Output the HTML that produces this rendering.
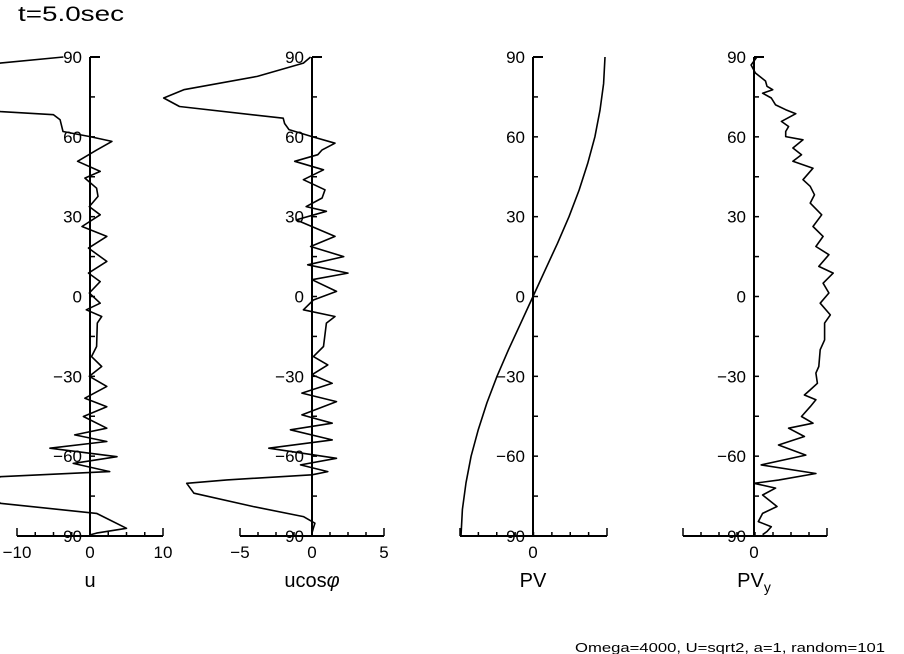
<!DOCTYPE html>
<html><head><meta charset="utf-8"><style>
html,body{margin:0;padding:0;background:#fff;}
svg{display:block;font-family:"Liberation Sans",sans-serif;}
</style></head><body>
<svg id="chart" width="904" height="654" viewBox="0 0 904 654">
<text x="18" y="21" font-size="21" textLength="106" lengthAdjust="spacingAndGlyphs">t=5.0sec</text>
<text x="575" y="652" font-size="13" textLength="310" lengthAdjust="spacingAndGlyphs">Omega=4000, U=sqrt2, a=1, random=101</text>
</svg>
<script>
const yTicks=[90,60,30,0,-30,-60,-90];
const uLat=[90,87.7,86,80,72,69.5,68.3,66.4,62,60.1,58.3,55,50.8,47,44.5,40.7,37.6,33.8,30.7,26.3,22.6,18.2,13.2,8.8,5.6,1.3,-2.5,-5,-7.5,-10,-18.8,-22.6,-26.3,-30,-33.8,-38.2,-41.4,-45.1,-49.5,-52,-54.5,-57,-60.2,-62.7,-65.8,-67.7,-72,-77.7,-81.5,-87.1,-88.9,-89.6];
const uVal=[-3.65,-12.3,-14,-14,-14,-12.3,-5,-4.1,-3.7,0,3,0.9,-1.7,1.4,-0.7,0.9,1.1,-0.1,1.4,-1.1,2.3,-0.2,2.3,-0.2,1.4,-0.1,1.4,-0.5,1.6,1,0.9,0.2,1.6,-0.1,2.3,-0.7,2.3,-0.9,2.3,-2.1,2.3,-5.5,3.7,-2.3,2.7,-12.3,-14,-12.3,0.9,5,0.9,0];
const ucLat=[90,87.7,82.7,77.7,74.6,71.4,67,65,62.7,60.1,57.6,55.1,53.3,50.8,47.6,43.9,40.1,37,33.8,32,28.8,22.6,18.8,15,11.9,8.8,6.3,1.9,-1.3,-5,-7.5,-10,-18.8,-22.6,-25.7,-29.4,-32.6,-36.3,-39.5,-44.5,-47.6,-50.1,-53.9,-57,-60.8,-63.3,-65.8,-67,-68.9,-70.2,-73.9,-78.9,-82.7,-85.2,-87,-88.9];
const ucVal=[-0.1,-0.6,-3.8,-8.9,-10.3,-9.2,-2,-1.9,-1.6,0,1.6,0.7,0.4,-1.2,0.8,-0.6,0.9,0.7,-0.4,1,-1.1,1.6,-0.1,2.2,-0.3,2.5,0,1.7,0.1,-0.6,1.6,1,0.8,0.1,1.1,0,1.4,-0.7,1.7,-0.7,1.4,-1.5,1.4,-3,1.7,-0.8,1.1,0,-5.9,-8.7,-8.2,-4.1,-0.6,0.2,0.1,0];
const pvLat=[-90,-80,-70,-60,-50,-40,-30,-20,-10,0,10,20,30,40,50,60,70,80,90];
const pvVal=[-1,-0.98,-0.93,-0.86,-0.76,-0.64,-0.5,-0.34,-0.17,0,0.17,0.34,0.5,0.64,0.76,0.86,0.93,0.98,1];
const pvyLat=[90,87,84,81,79,77.7,76.4,74.6,72,70.2,68.7,65.8,63.9,62,60.1,58.9,55.8,53.3,50.8,48.2,43.9,41.4,38.2,35.1,30.7,26.3,22.6,18.8,15.7,11.3,8.8,5,1.3,-2.5,-6.9,-10,-16.3,-20,-26.3,-28.8,-32.6,-35.1,-37,-38.8,-41.4,-45.1,-47.6,-49.5,-52.6,-55.8,-59.6,-63.3,-66.5,-69,-70.2,-72,-74.6,-78.9,-81.5,-84.6,-86.5,-88.3,-89.5];
const pvyVal=[0.2,-0.2,0.1,0.8,0.9,1.3,0.6,1.2,1.5,2.2,2.9,1.9,2.4,2.2,2.2,3.4,2.7,3.3,2.7,4.1,3.4,3.9,4.2,3.9,4.7,4.1,4.8,4.3,5.2,4.5,5.5,4.8,5.2,4.6,5.3,4.9,4.9,4.6,4.5,4.3,4.4,3.9,3.5,4.3,3.9,3.3,4.1,2.4,3.5,1.7,3.6,0.5,4.3,1.7,0,1.5,0.6,1.6,0.6,0.3,1.2,0.9,0.6];

const NS='http://www.w3.org/2000/svg';
const svg=document.getElementById('chart');
const Y0=296.5, YS=479/180;
function yPos(lat){return Y0-lat*YS;}
function mk(tag,attrs){const e=document.createElementNS(NS,tag);for(const k in attrs)e.setAttribute(k,attrs[k]);svg.appendChild(e);return e;}

function panel(cfg,lats,vals){
  const ax=cfg.ax, sc=cfg.sc;
  const xPos=v=>ax+v*sc;
  const yb=yPos(-90);
  let l=mk('line',{x1:cfg.xl,y1:yb,x2:cfg.xr,y2:yb,stroke:'#000','stroke-width':2});
  
  
  for(let x=cfg.xl;x<=cfg.xr+0.5;x+=(cfg.xr-cfg.xl)/8){
    const end=(Math.abs(x-cfg.xl)<1||Math.abs(x-cfg.xr)<1);
    mk('line',{x1:x,y1:yb,x2:x,y2:yb-(end?8:4),stroke:'#000','stroke-width':1.5});
  }
  l=mk('line',{x1:ax,y1:yPos(90),x2:ax,y2:yb,stroke:'#000','stroke-width':2});
  
  
  mk('line',{x1:ax,y1:yPos(90),x2:ax+10,y2:yPos(90),stroke:'#000','stroke-width':2});
  for(let t=-75;t<90;t+=15){mk('line',{x1:ax,y1:yPos(t),x2:ax+5,y2:yPos(t),stroke:'#000','stroke-width':1.5});}
  yTicks.forEach(t=>{
    const tx=mk('text',{x:ax-8,y:yPos(t)+6,'font-size':17,'text-anchor':'end'});
    tx.textContent=t<0?'\u2212'+(-t):String(t);
    
    
  });
  cfg.xt.forEach((t,i)=>{
    const tx=mk('text',{x:xPos(t),y:558,'font-size':17,'text-anchor':'middle'});
    tx.textContent=cfg.xtl[i];
    
    
  });
  const tt=mk('text',{x:ax,y:587,'font-size':20,'text-anchor':'middle'});
  tt.innerHTML=cfg.title;
  
  
  const d=lats.map((la,i)=>(i?'L':'M')+xPos(vals[i]).toFixed(1)+' '+yPos(la).toFixed(1)).join(' ');
  const p=mk('path',{d:d,fill:'none',stroke:'#000','stroke-width':1.6,'stroke-linejoin':'round'});
  
  
}
panel({id:'u',ax:90,sc:7.3,xl:17,xr:163,xt:[-10,0,10],xtl:['\u221210','0','10'],title:'u'},uLat,uVal);
panel({id:'ucos',ax:312,sc:14.4,xl:240,xr:384,xt:[-5,0,5],xtl:['\u22125','0','5'],title:'ucos<tspan font-style="italic">\u03c6</tspan>'},ucLat,ucVal);
panel({id:'pv',ax:533,sc:72,xl:460,xr:607,xt:[0],xtl:['0'],title:'PV'},pvLat,pvVal);
panel({id:'pvy',ax:754,sc:14.4,xl:683,xr:827,xt:[0],xtl:['0'],title:'PV<tspan font-size="14" dy="5">y</tspan>'},pvyLat,pvyVal);
</script>
</body></html>
